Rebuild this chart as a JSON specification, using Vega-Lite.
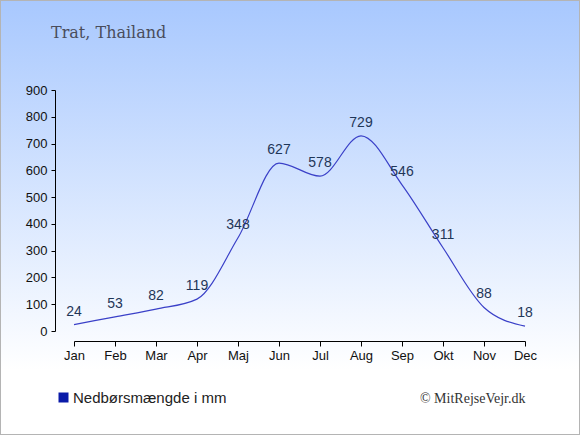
{
  "$schema": "https://vega.github.io/schema/vega-lite/v6.json",
  "width": 580,
  "height": 435,
  "autosize": {"type": "none"},
  "padding": 0,
  "background": "white",
  "title": {
    "text": "Trat, Thailand",
    "anchor": "start",
    "frame": "group",
    "dx": 51,
    "offset": -54,
    "baseline": "alphabetic",
    "font": "DejaVu Serif",
    "fontSize": 16,
    "fontWeight": "normal",
    "color": "#4a4d5c"
  },
  "data": {
    "values": [
      {"month": "Jan", "mm": 24},
      {"month": "Feb", "mm": 53},
      {"month": "Mar", "mm": 82},
      {"month": "Apr", "mm": 119},
      {"month": "Maj", "mm": 348},
      {"month": "Jun", "mm": 627},
      {"month": "Jul", "mm": 578},
      {"month": "Aug", "mm": 729},
      {"month": "Sep", "mm": 546},
      {"month": "Okt", "mm": 311},
      {"month": "Nov", "mm": 88},
      {"month": "Dec", "mm": 18}
    ]
  },
  "encoding": {
    "x": {
      "field": "month",
      "type": "ordinal",
      "sort": null,
      "scale": {"type": "point", "padding": 0, "range": [74, 525]},
      "axis": {
        "orient": "bottom",
        "offset": -94,
        "grid": false,
        "labelAngle": 0,
        "domainColor": "#000000",
        "tickColor": "#000000",
        "tickSize": 5,
        "labelPadding": 3,
        "labelFont": "Liberation Sans",
        "labelFontSize": 13,
        "labelColor": "#111111",
        "title": "© MitRejseVejr.dk",
        "titleX": 525,
        "titleY": 57,
        "titleAlign": "right",
        "titleBaseline": "middle",
        "titleFont": "Liberation Serif",
        "titleFontSize": 14,
        "titleFontWeight": "normal",
        "titleColor": "#333333"
      }
    },
    "y": {
      "field": "mm",
      "type": "quantitative",
      "scale": {"domain": [0, 900], "range": [331, 90], "nice": false, "zero": true},
      "axis": {
        "orient": "left",
        "offset": -55,
        "grid": false,
        "values": [0, 100, 200, 300, 400, 500, 600, 700, 800, 900],
        "domainColor": "#000000",
        "tickColor": "#000000",
        "tickSize": 4,
        "labelPadding": 4,
        "labelFont": "Liberation Sans",
        "labelFontSize": 13,
        "labelColor": "#111111",
        "title": null
      }
    }
  },
  "layer": [
    {
      "mark": {"type": "line", "interpolate": "monotone", "strokeWidth": 1.2},
      "encoding": {
        "stroke": {
          "datum": "Nedbørsmængde i mm",
          "scale": {"range": ["#3a40c8"]},
          "legend": {
            "orient": "none",
            "legendX": 56,
            "legendY": 390,
            "title": null,
            "symbolType": "square",
            "symbolSize": 100,
            "labelFont": "Liberation Sans",
            "labelFontSize": 15,
            "labelColor": "#222222",
            "labelOffset": 2,
            "encode": {
              "symbols": {
                "update": {
                  "fill": {"value": "#0a1aa8"},
                  "stroke": {"value": "#0a1aa8"},
                  "strokeWidth": {"value": 0}
                }
              }
            }
          }
        }
      }
    },
    {
      "mark": {
        "type": "text",
        "dy": -13,
        "baseline": "middle",
        "font": "Liberation Sans",
        "fontSize": 14,
        "color": "#1f3658"
      },
      "encoding": {"text": {"field": "mm", "type": "quantitative"}}
    }
  ],
  "config": {
    "view": {
      "fill": {
        "gradient": "linear",
        "x1": 0,
        "y1": 0,
        "x2": 0,
        "y2": 1,
        "stops": [
          {"offset": 0, "color": "#a8c8fe"},
          {"offset": 0.85, "color": "#ffffff"},
          {"offset": 1, "color": "#ffffff"}
        ]
      },
      "stroke": "#b4b4b4",
      "strokeWidth": 2
    }
  }
}
